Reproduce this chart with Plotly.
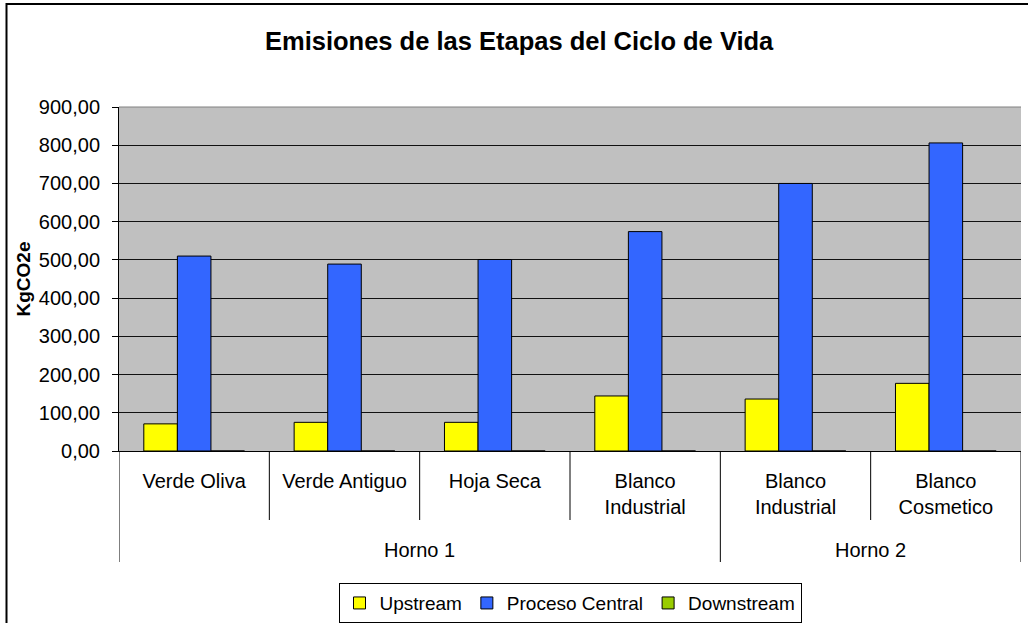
import plotly.graph_objects as go

categories = ["Verde Oliva", "Verde Antiguo", "Hoja Seca", "Blanco<br>Industrial", "Blanco<br>Industrial", "Blanco<br>Cosmetico"]
groups = ["Horno 1", "Horno 1", "Horno 1", "Horno 1", "Horno 2", "Horno 2"]
upstream = [71, 75, 75, 144, 136, 177]
proceso_central = [510, 489, 501, 574, 700, 806]
downstream = [0, 0, 0, 0, 0, 0]
y_ticks = [0, 100, 200, 300, 400, 500, 600, 700, 800, 900]

FONT = "Arial, 'Liberation Sans', sans-serif"
xpos = list(range(len(categories)))

fig = go.Figure()
for name, vals, col in [("Upstream", upstream, "#FFFF00"),
                        ("Proceso Central", proceso_central, "#3366FF"),
                        ("Downstream", downstream, "#99CC00")]:
    fig.add_trace(go.Bar(name=name, x=xpos, y=vals,
                         marker=dict(color=col, line=dict(color="black", width=1))))

fig.update_layout(
    width=1028, height=623,
    margin=dict(l=119, r=7, t=107, b=172, autoexpand=False),
    paper_bgcolor="white", plot_bgcolor="#C0C0C0",
    separators=",.",
    barmode="group", bargap=0.33, bargroupgap=0,
    font=dict(family=FONT, color="black", size=20),
    title=dict(text="<b>Emisiones de las Etapas del Ciclo de Vida</b>",
               font=dict(size=25.5, family=FONT, color="black"),
               x=0.505, xref="container", xanchor="center",
               y=1 - 41 / 623, yref="container", yanchor="middle"),
    showlegend=True,
    legend=dict(orientation="h", x=0.5, xanchor="center", y=-0.384, yanchor="top",
                bordercolor="black", borderwidth=1, font=dict(size=19, family=FONT),
                bgcolor="white"),
)

fig.update_xaxes(range=[-0.5, 5.5], tickvals=xpos, ticktext=categories,
                 ticks="", showline=True, linecolor="black", linewidth=1,
                 showgrid=False, zeroline=False, tickfont=dict(size=20),
                 ticklabelstandoff=12, automargin=False)
fig.update_yaxes(range=[0, 900], tickvals=y_ticks, tickformat=".2f",
                 ticks="outside", ticklen=6, tickcolor="black", tickwidth=1,
                 showline=True, linecolor="black", linewidth=1,
                 showgrid=True, gridcolor="#111111", gridwidth=1.3, zeroline=False,
                 tickfont=dict(size=20), ticklabelstandoff=8, automargin=False,
                 title=dict(text="<b>KgCO2e</b>", font=dict(size=19), standoff=3))

# category dividers
shapes = []
H = 344.0
for b in [0.5, 1.5, 2.5, 4.5]:
    shapes.append(dict(type="line", xref="x", yref="paper", x0=b, x1=b, y0=0, y1=-69 / H,
                       line=dict(color="black", width=1)))
for b in [-0.5, 3.5, 5.5]:
    shapes.append(dict(type="line", xref="x", yref="paper", x0=b, x1=b, y0=0, y1=-111 / H,
                       line=dict(color="black", width=1)))
# plot area top border (gray)
shapes.append(dict(type="line", xref="paper", yref="paper", x0=0, x1=1, y0=1, y1=1,
                   line=dict(color="#808080", width=1), layer="above"))
# chart frame
shapes.append(dict(type="rect", xref="paper", yref="paper",
                   x0=(6.5 - 119) / 902, x1=(1035 - 119) / 902,
                   y0=(451 - 635) / H, y1=(451 - 4) / H,
                   line=dict(color="black", width=2), fillcolor="rgba(0,0,0,0)"))
fig.update_layout(shapes=shapes)

for lbl, xc in [("Horno 1", 1.5), ("Horno 2", 4.5)]:
    fig.add_annotation(text=lbl, x=xc, xref="x", y=(451 - 550) / H, yref="paper",
                       showarrow=False, yanchor="middle", font=dict(size=20, family=FONT))

fig.write_html("out.html", config={"displayModeBar": False},
               post_script="document.body.style.margin='0px';document.body.style.overflow='hidden';")
